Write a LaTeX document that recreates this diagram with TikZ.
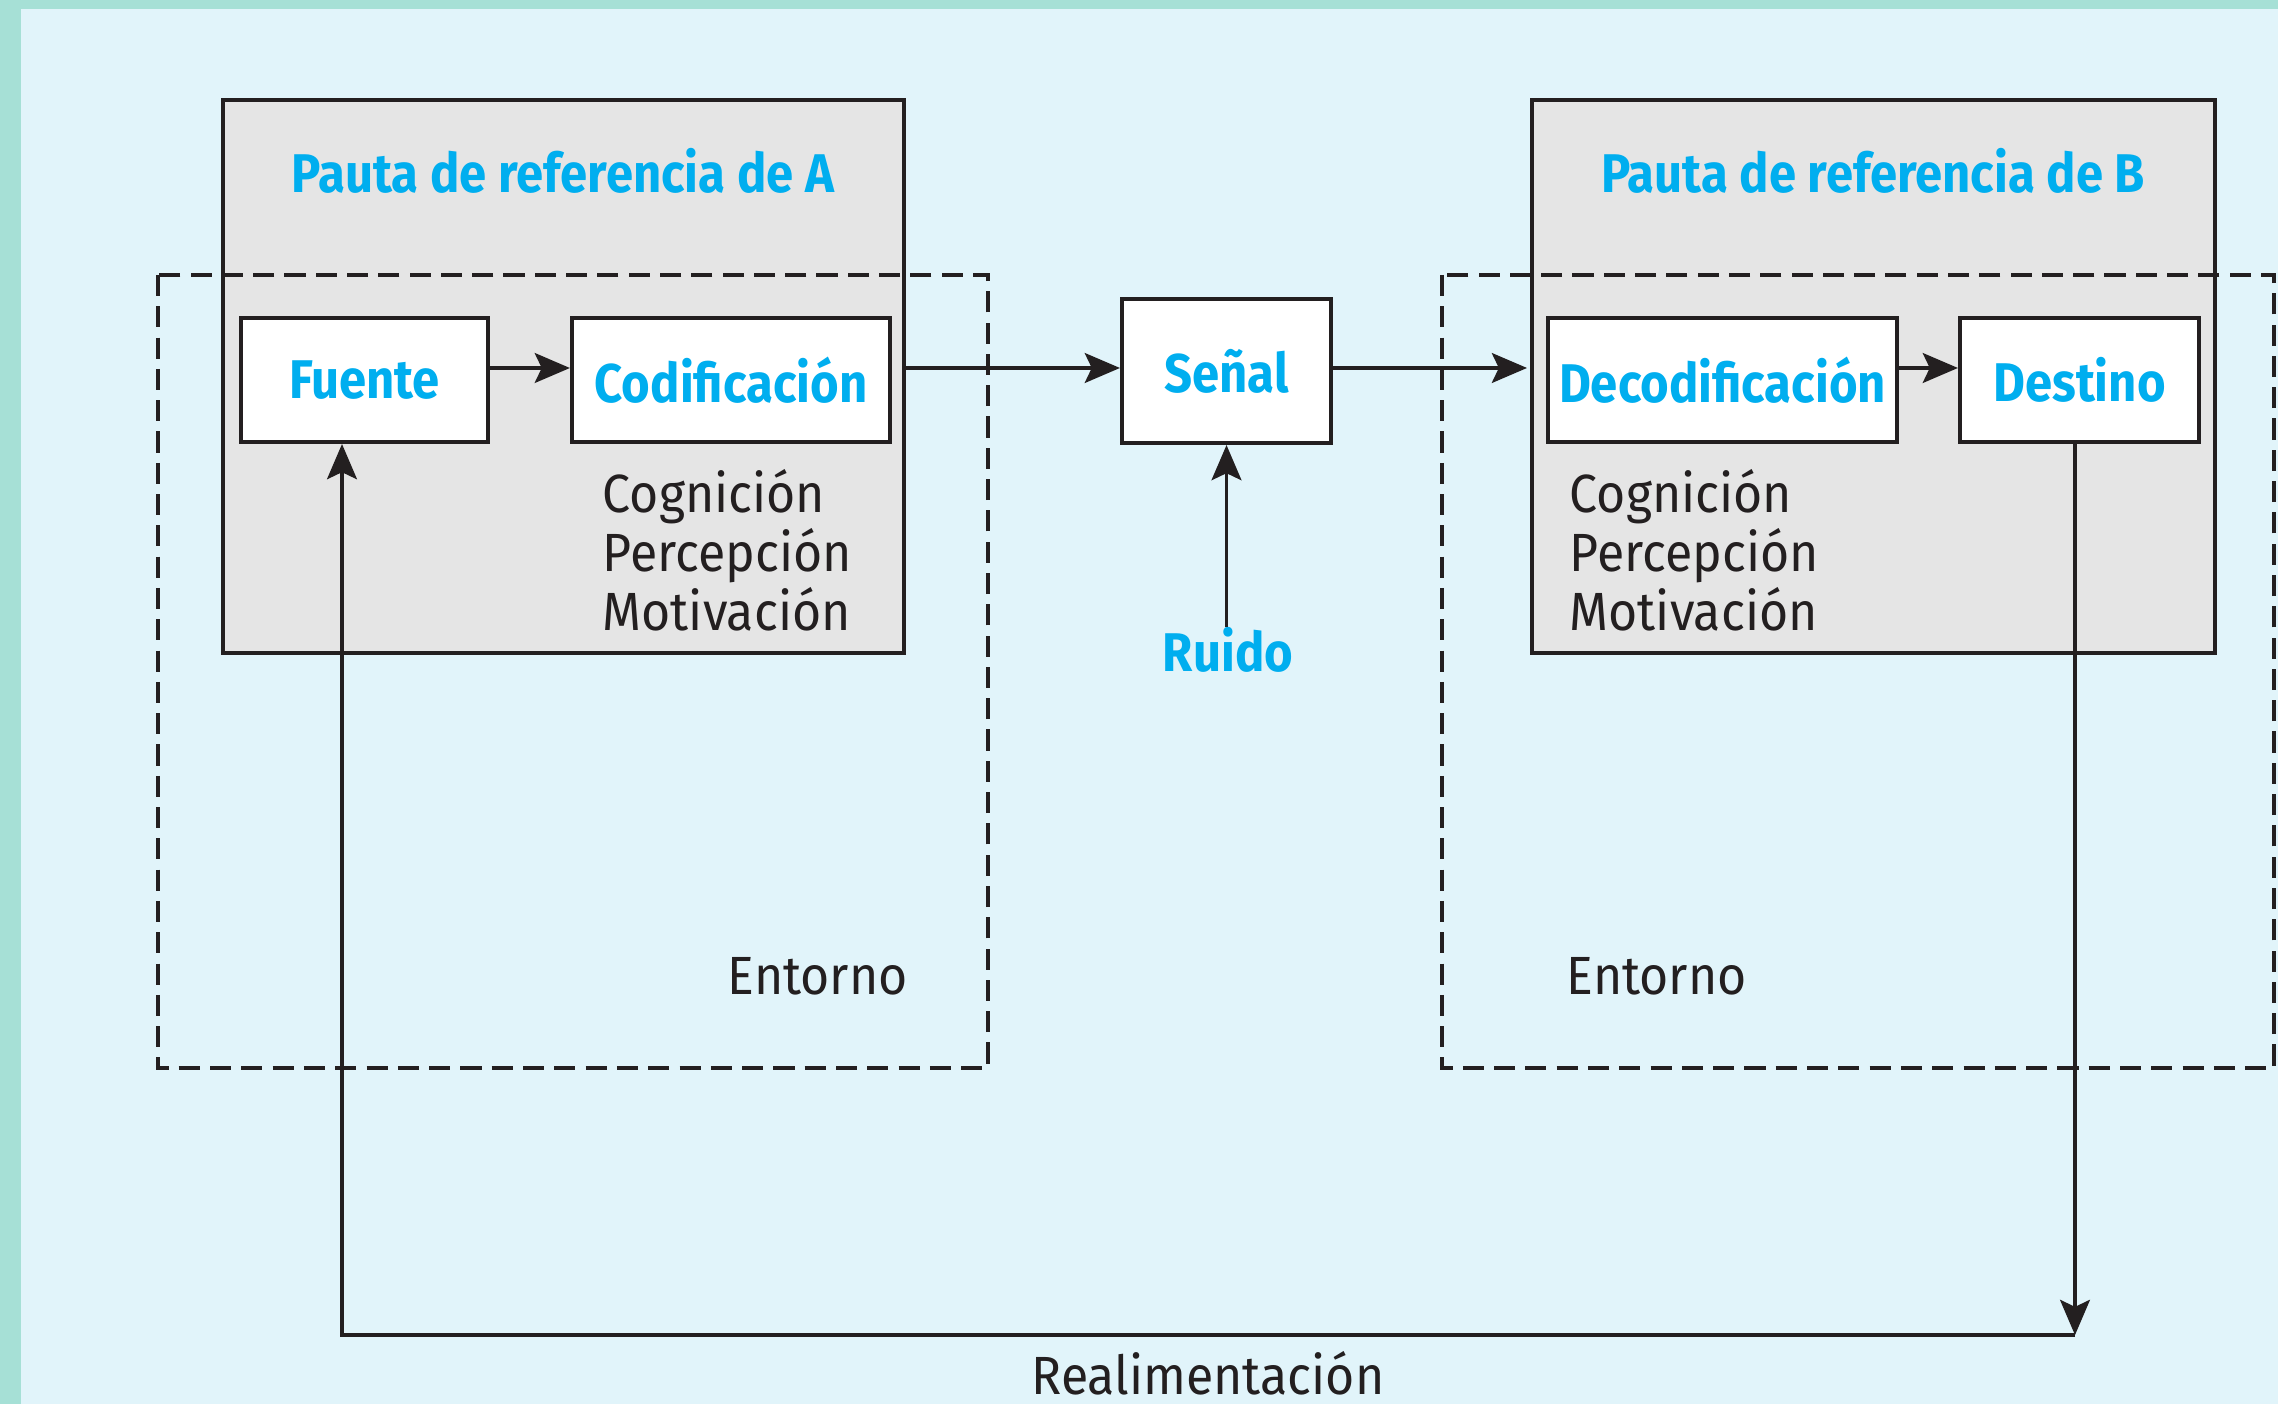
\documentclass[tikz,border=0pt]{standalone}
\usepackage{fontspec}
\setmainfont{Fira Sans}[FakeStretch=0.93]
\newfontfamily\labelfont{Fira Sans}[FakeStretch=0.9]
\usetikzlibrary{arrows.meta}

\definecolor{labelblue}{HTML}{00AEEF}
\definecolor{paper}{HTML}{E1F4FA}
\definecolor{frame}{HTML}{A6E0D6}
\definecolor{panel}{HTML}{E5E5E5}
\definecolor{ink}{HTML}{231F20}

\tikzset{
  box/.style={draw=ink, line width=1.15pt, fill=white, minimum height=1.24cm,
    inner sep=0pt, text=labelblue, font=\labelfont\fontsize{15.5}{18}\bfseries},
  pauta/.style={draw=ink, line width=1.15pt, fill=panel},
  entorno/.style={draw=ink, line width=1.1pt, dash pattern=on 6pt off 2.9pt},
  bluetext/.style={inner sep=0pt, text=labelblue, font=\labelfont\fontsize{15.5}{18}\bfseries},
  blacktext/.style={inner sep=0pt, text=ink, font=\fontsize{15.3}{16.8}\selectfont},
  arr/.style={draw=ink, line width=0.95pt, -{Stealth[length=10pt, width=8.5pt, inset=2pt]}}
}

\begin{document}
\begin{tikzpicture}[x=0.01cm, y=-0.01cm]

\useasboundingbox (0,0) rectangle (2278,1404);
\fill[frame] (0,0) rectangle (2278,1404);
\fill[paper] (21,9) rectangle (2278,1404);

\draw[pauta] (223,100) rectangle (904,653);
\draw[pauta] (1532,100) rectangle (2215,653);

\draw[entorno] (158,275) rectangle (988,1068);
\draw[entorno] (1442,275) rectangle (2274,1068);

\node[bluetext, anchor=base] (tituloA) at (563,193) {Pauta de referencia de A};
\node[bluetext, anchor=base] (tituloB) at (1873,193) {Pauta de referencia de B};

\node[blacktext, anchor=base west, align=left] (procesosA) at (602,631) {Cognición\\Percepción\\Motivación};
\node[blacktext, anchor=base west, align=left] (procesosB) at (1569,631) {Cognición\\Percepción\\Motivación};

\node[blacktext, anchor=base west] (entornoA) at (727,995) {Entorno};
\node[blacktext, anchor=base west] (entornoB) at (1566,995) {Entorno};

\node[box, minimum width=2.47cm] (fuente) at (364.5,380) {Fuente};
\node[box, minimum width=3.18cm] (codif) at (731,380) {Codificación};
\node[box, minimum width=2.09cm, minimum height=1.44cm] (senal) at (1226.5,371) {Señal};
\node[box, minimum width=3.49cm] (decod) at (1722.5,380) {Decodificación};
\node[box, minimum width=2.39cm] (destino) at (2079.5,380) {Destino};

\node[bluetext, anchor=base] (ruido) at (1228,672) {Ruido};
\node[blacktext, anchor=base] (realim) at (1208,1395) {Realimentación};

\coordinate (fila) at (0,368);
\coordinate (bordeA) at (904,368);
\coordinate (bordeB) at (1527,368);
\coordinate (esquina) at (2075,1335);
\coordinate (vuelta) at (342,1335);

\draw[arr] (fuente.east |- fila) -- (codif.west |- fila);
\draw[arr] (bordeA) -- (senal.west |- fila);
\draw[arr] (senal.east |- fila) -- (bordeB);
\draw[arr] (decod.east |- fila) -- (destino.west |- fila);
\draw[arr] (ruido.north -| senal.south) -- (senal.south);

\draw[arr] (esquina |- destino.south) -- (esquina);
\draw[arr] (esquina) -- (vuelta) -- (vuelta |- fuente.south);

\end{tikzpicture}
\end{document}
